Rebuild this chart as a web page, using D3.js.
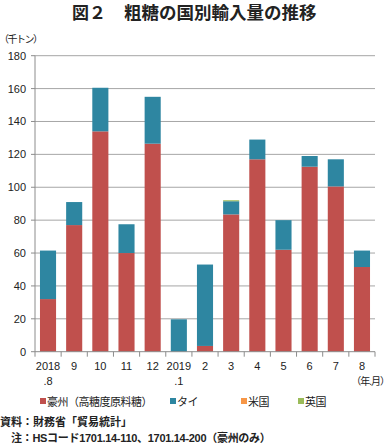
<!DOCTYPE html>
<html><head><meta charset="utf-8">
<script src="https://cdn.jsdelivr.net/npm/d3@7"></script>
<style>
body{margin:0;background:#fff;}
text{font-family:"Liberation Sans","Noto Sans CJK JP",sans-serif;fill:#222;}
</style></head>
<body><svg id="c" width="389" height="444"></svg>
<script>
const months = ["2018\n.8","9","10","11","12","2019\n.1","2","3","4","5","6","7","8"];
const australia = [32,77,134,60,126.5,0,3.5,83.5,117,62,112.5,100.5,51.5];
const thailand  = [29.5,14,26.5,17.5,28.5,19.7,49.5,8,12,18,6.5,16.5,10];
const usa       = [0,0,0,0,0,0,0,0,0,0,0,0,0];
const uk        = [0,0,0,0,0,0,0,0.6,0,0,0,0,0];
const seriesNames = ["豪州（高糖度原料糖）","タイ","米国","英国"];
const yTicks = [0,20,40,60,80,100,120,140,160,180];
const colors = ["#C0504D","#2E86A1","#F79646","#9BBB59"];

const svg = d3.select("#c");
const L=35, R=375, T=55.7, B=351.7;
const x = d3.scaleBand().domain(d3.range(months.length)).range([L,R]).paddingInner(0.385).paddingOuter(0.19);
const y = d3.scaleLinear().domain([0,180]).range([B,T]);

// title
svg.append("text").attr("x",72).attr("y",18.5).attr("font-size",17).attr("font-weight","bold")
  .style("font-family","'Noto Sans CJK JP',sans-serif").text("図２");
svg.append("text").attr("x",124).attr("y",18.5).attr("font-size",17.5).attr("font-weight","bold")
  .style("font-family","'Noto Sans CJK JP',sans-serif").text("粗糖の国別輸入量の推移");
svg.append("text").attr("x",-1).attr("y",43).attr("font-size",10).text("（千トン）").attr("letter-spacing",-1.5);

// grid
const g = svg.append("g");
g.selectAll("line.grid").data(yTicks.filter(d=>d>0)).join("line")
  .attr("x1",L).attr("x2",R).attr("y1",d=>y(d)).attr("y2",d=>y(d))
  .attr("stroke","#A6A6A6").attr("stroke-width",1);
g.selectAll("text.yt").data(yTicks).join("text")
  .attr("x",26).attr("y",d=>y(d)+4).attr("text-anchor","end").attr("font-size",11).text(d=>d);

// stacked bars
const data = months.map((m,i)=>({i,a:australia[i],t:thailand[i],u:usa[i],k:uk[i]}));
const stack = d3.stack().keys(["a","t","u","k"])(data);
stack.forEach((s,si)=>{
  svg.append("g").selectAll("rect").data(s).join("rect")
    .attr("x",(d,i)=>x(i)).attr("width",x.bandwidth())
    .attr("y",d=>y(d[1])).attr("height",d=>Math.max(0,y(d[0])-y(d[1])))
    .attr("fill",colors[si]);
});

// axes
svg.append("line").attr("x1",L).attr("x2",L).attr("y1",T).attr("y2",B).attr("stroke","#8C8C8C");
svg.append("line").attr("x1",L).attr("x2",R).attr("y1",B).attr("y2",B).attr("stroke","#8C8C8C");
svg.selectAll("line.xt").data(d3.range(months.length+1)).join("line")
  .attr("x1",d=>L+d*(R-L)/months.length).attr("x2",d=>L+d*(R-L)/months.length)
  .attr("y1",B).attr("y2",B+5).attr("stroke","#8C8C8C");
svg.selectAll("line.yt").data(yTicks).join("line")
  .attr("x1",L-4).attr("x2",L).attr("y1",d=>y(d)).attr("y2",d=>y(d)).attr("stroke","#8C8C8C");

months.forEach((m,i)=>{
  const parts=m.split("\n");
  parts.forEach((p,j)=>{
    svg.append("text").attr("x",x(i)+x.bandwidth()/2).attr("y",370+j*15).attr("text-anchor","middle")
      .attr("font-size",11).text(p);
  });
});
svg.append("text").attr("x",389).attr("y",385).attr("text-anchor","end").attr("font-size",10).text("（年.月）").attr("letter-spacing",-1);

// legend
const legX=[40,170,241,298];
seriesNames.forEach((n,i)=>{
  svg.append("rect").attr("x",legX[i]).attr("y",398).attr("width",6).attr("height",6).attr("fill",colors[i]);
  svg.append("text").attr("x",legX[i]+7).attr("y",406).attr("font-size",11).text(n).attr("letter-spacing",-0.5);
});

// footer
svg.append("text").attr("x",0).attr("y",426).attr("font-size",11).attr("font-weight","bold").text("資料：財務省「貿易統計」");
svg.append("text").attr("x",11).attr("y",442).attr("font-size",11).attr("font-weight","bold").text("注：HSコード1701.14-110、1701.14-200（豪州のみ）").attr("letter-spacing",-0.3);
</script></body></html>
